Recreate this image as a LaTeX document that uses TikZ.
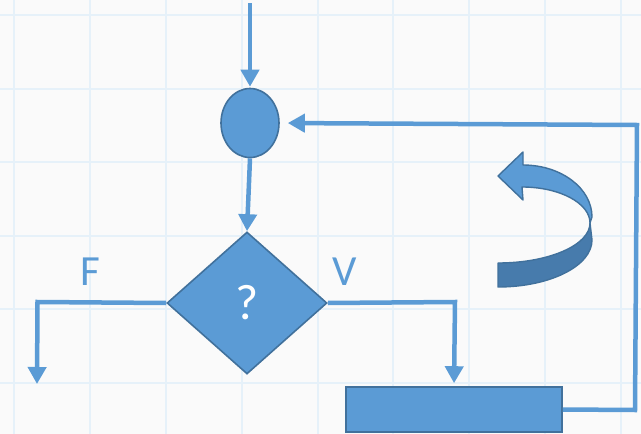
\documentclass[tikz,border=0pt]{standalone}
\usepackage{fontspec}
\setmainfont{Carlito}
\usetikzlibrary{shapes.geometric,arrows.meta}
\definecolor{bfill}{HTML}{5B9BD5}
\definecolor{bline}{HTML}{41719C}
\definecolor{bdark}{HTML}{477BAC}
\definecolor{gridc}{HTML}{E6F1F9}
\definecolor{bg}{HTML}{FAFAFA}
\tikzset{
  shapebox/.style={fill=bfill, draw=bline, line width=1.6pt, inner sep=0pt},
  conn/.style={draw=bfill, line width=4.5pt, -{Triangle[width=18pt,length=17pt]}},
  lbl/.style={text=bfill, font=\fontsize{43}{43}\selectfont},
}
\begin{document}
\begin{tikzpicture}[x=1pt,y=-1pt]
\fill[bg] (0,0) rectangle (641,434);
\useasboundingbox (0,0) rectangle (641,434);
% grid
\foreach \gx in {14,90,166,242,318,393,469,545,621}
  \draw[gridc, line width=2pt] (\gx,0) -- (\gx,434);
\foreach \gy in {15,88.6,162.2,235.8,309.4,383}
  \draw[gridc, line width=2pt] (0,\gy) -- (641,\gy);

% nodes
\node[shapebox, ellipse, minimum width=58pt, minimum height=69pt] (c) at (250,123) {};
\node[shapebox, diamond, minimum width=160pt, minimum height=142pt, text=white, font=\fontsize{50}{50}\selectfont] (d) at (247,303) {?};
\node[shapebox, rectangle, minimum width=216pt, minimum height=45pt] (r) at (454,409.5) {};
\node[lbl] (F) at (90,272) {F};
\node[lbl] (V) at (345,272) {V};

\coordinate (in) at (250,3);
\coordinate (fcorner) at (37.5,302);
\coordinate (fend) at (37,384);
\coordinate (vcorner) at (455,302);
\coordinate (rb1) at (635,410);
\coordinate (rb2) at (637,125);

% connectors
\draw[conn, shorten >=1pt] (in) -- (c.north);
\draw[conn, shorten >=0pt] (c.south) -- (d.north);
\draw[conn] (d.west) -- (fcorner) -- (fend);
\draw[conn, shorten >=3pt] (d.east) -- (vcorner) -- (r.north);
\draw[conn, shorten >=8pt] (r.east) -- (rb1) -- (rb2) -- (c.east);

% 3D curved arrow
\draw[fill=bdark, draw=bline, line width=1.4pt, line join=round]
  (498,263) arc[start angle=90, end angle=0, x radius=92, y radius=40]
  -- (592,240)
  arc[start angle=0, end angle=90, x radius=94, y radius=47]
  -- cycle;
\draw[fill=bfill, draw=bline, line width=1.4pt, line join=round]
  (498,176) -- (523,152) -- (523,165)
  arc[start angle=-90, end angle=0, x radius=69, y radius=52]
  -- (590,223)
  arc[start angle=0, end angle=-90, x radius=68, y radius=36]
  -- (523,200) -- cycle;
\end{tikzpicture}
\end{document}
